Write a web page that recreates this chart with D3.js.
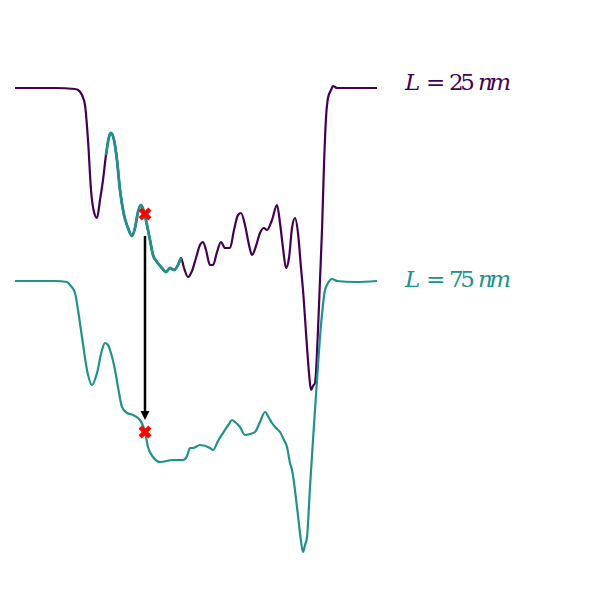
<!DOCTYPE html>
<html>
<head>
<meta charset="utf-8">
<script src="https://cdn.jsdelivr.net/npm/d3@7/dist/d3.min.js"></script>
<style>
  html, body { margin: 0; padding: 0; background: #fff; }
  svg { display: block; }
</style>
</head>
<body>
<svg id="chart" width="600" height="600"></svg>
<script>
// ---- data (position, intensity relative to each trace baseline) ----
const posUpper = [0,20,40,60,63,67,70,73,76,79,82,85,88,91,94,96,99,102,105,109,113,117,120,123,126,129,132,135,138,142,147,151,155,159,163,166,169,173,177,181,185,188,191,195,198,202,206,210,215,219,223,226,230,234,237,241,245,249,252,257,262,265,268,271,274,277,280,283,286,288,292,294,296,298,300,303,305,307,309,311,313,316,318,322,340,362];
const valUpper = [0,0,0,-1,-2,-7,-17,-52,-102,-124,-130,-112,-92,-67,-49,-45,-52,-72,-102,-127,-140,-148,-140,-124,-117,-124,-137,-152,-167,-174,-180,-184,-180,-182,-177,-170,-180,-189,-183,-170,-157,-154,-162,-177,-177,-164,-154,-160,-160,-142,-127,-125,-137,-157,-167,-158,-145,-140,-142,-132,-117,-135,-160,-180,-170,-140,-130,-145,-180,-202,-259,-285,-302,-298,-295,-242,-192,-142,-77,-30,-10,-2,2,0,0,0];

const posLower = [0,20,40,52,55,60,63,67,72,77,82,87,90,93,95,100,103,107,112,118,125,130,133,138,145,158,168,172,175,178,185,195,198,203,208,214,217,220,225,230,235,240,245,250,254,257,261,265,269,272,275,277,282,285,288,290,292,295,298,302,306,310,313,317,322,340,362];
const valLower = [0,0,0,-1,-4,-12,-29,-56,-89,-104,-92,-69,-62,-64,-69,-89,-106,-126,-132,-134,-139,-151,-166,-176,-181,-179,-179,-175,-167,-167,-164,-167,-169,-160,-152,-143,-139,-141,-146,-154,-153,-151,-141,-131,-137,-142,-147,-151,-159,-166,-182,-189,-226,-252,-271,-264,-256,-206,-159,-99,-44,-9,-2,2,0,-1,0];

const seriesNames = ["L = 25nm", "L = 75nm"];
const seriesColors = ["#440154", "#21918c"];
const seriesOffsets = [0, -193];
const overlapRange = [91, 168];      // part of the upper trace drawn in the second colour
const markerPos = 130;
const markerUpper = -126;
const markerLower = -151;

// ---- layout ----
const svg = d3.select("#chart");
const x = d3.scaleLinear().domain([0, 362]).range([15, 377]);
const y = d3.scaleLinear().domain([0, -193]).range([88, 281]);

const upper = posUpper.map((p, i) => ({x: p, v: valUpper[i] + seriesOffsets[0]}));
const lower = posLower.map((p, i) => ({x: p, v: valLower[i] + seriesOffsets[1]}));

const line = d3.line().x(d => x(d.x)).y(d => y(d.v)).curve(d3.curveMonotoneX);

svg.append("path").datum(upper)
  .attr("d", line).attr("fill", "none")
  .attr("stroke", seriesColors[0]).attr("stroke-width", 2.2).attr("stroke-linejoin", "round");

svg.append("path").datum(upper.filter(d => d.x >= overlapRange[0] && d.x <= overlapRange[1]))
  .attr("d", line).attr("fill", "none")
  .attr("stroke", seriesColors[1]).attr("stroke-width", 2.8).attr("stroke-linejoin", "round");

svg.append("path").datum(lower)
  .attr("d", line).attr("fill", "none")
  .attr("stroke", seriesColors[1]).attr("stroke-width", 2.2).attr("stroke-linejoin", "round");

// arrow
const ax = x(markerPos);
const y0 = y(markerUpper + seriesOffsets[0]) + 22;
const y1 = y(markerLower + seriesOffsets[1]) - 12;
svg.append("line").attr("x1", ax).attr("x2", ax).attr("y1", y0).attr("y2", y1 - 7)
  .attr("stroke", "#000").attr("stroke-width", 2.5);
svg.append("path")
  .attr("d", `M${ax - 4.5},${y1 - 9} L${ax + 4.5},${y1 - 9} L${ax},${y1} Z`)
  .attr("fill", "#000");

// markers
const xSym = d3.symbol().type(d3.symbolCross).size(105);
[[markerPos, markerUpper + seriesOffsets[0]], [markerPos, markerLower + seriesOffsets[1]]].forEach(m => {
  svg.append("path").attr("d", xSym())
    .attr("transform", `translate(${x(m[0])},${y(m[1])}) rotate(45)`)
    .attr("fill", "red");
});

// labels
function mathLabel(num, color, baseY) {
  const g = svg.append("g").attr("fill", color)
    .style("font-family", "'DejaVu Serif', 'Liberation Serif', serif").style("font-size", "23px");
  g.append("text").attr("x", 405).attr("y", baseY).style("font-style", "italic").text("L");
  g.append("text").attr("x", 426).attr("y", baseY).text("=");
  g.append("text").attr("x", 449).attr("y", baseY).attr("textLength", 26).text(num);
  g.append("text").attr("x", 478).attr("y", baseY).style("font-style", "italic").attr("textLength", 33).text("nm");
}
mathLabel("25", seriesColors[0], 90);
mathLabel("75", seriesColors[1], 287);
</script>
</body>
</html>
